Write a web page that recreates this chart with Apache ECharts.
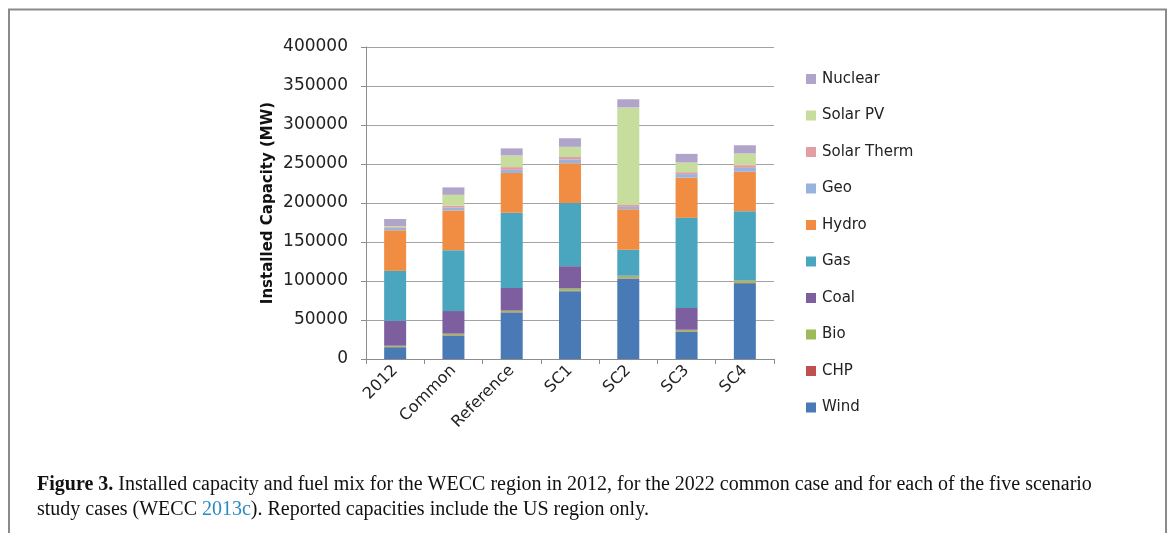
<!DOCTYPE html>
<html>
<head>
<meta charset="utf-8">
<script src="https://cdn.jsdelivr.net/npm/echarts@6/dist/echarts.min.js"></script>
<style>
  html, body { margin: 0; padding: 0; background: #fff; }
  #chart { width: 1169px; height: 533px; }
</style>
</head>
<body>
<div id="chart"></div>
<script>
// Installed capacity (MW) by fuel for each case
const cases = ['2012', 'Common', 'Reference', 'SC1', 'SC2', 'SC3', 'SC4'];

const wind       = [15000, 30000, 59500, 87000, 103000, 35000, 97000];
const chp        = [500, 500, 500, 500, 500, 500, 500];
const bio        = [1500, 2000, 2000, 3000, 2500, 2000, 3000];
const coal       = [32000, 29000, 29000, 28500, 1000, 28000, 500];
const gas        = [64000, 78000, 96500, 81000, 33000, 115500, 88500];
const hydro      = [52000, 51000, 51000, 51000, 52000, 51500, 50500];
const geo        = [3000, 3500, 4000, 5000, 3000, 4500, 5000];
const solarTherm = [1000, 2500, 3500, 3000, 2500, 2500, 3500];
const solarPV    = [1500, 14000, 15000, 13000, 125000, 12500, 15000];
const nuclear    = [9000, 9500, 9000, 11000, 10500, 11000, 10500];

const yTicks = { min: 0, max: 400000, interval: 50000 };

const fuels = [
  { name: 'Wind',        data: wind,       color: '#4a7ab6' },
  { name: 'CHP',         data: chp,        color: '#c0504d' },
  { name: 'Bio',         data: bio,        color: '#9bbb59' },
  { name: 'Coal',        data: coal,       color: '#7d5f9f' },
  { name: 'Gas',         data: gas,        color: '#4aa6bf' },
  { name: 'Hydro',       data: hydro,      color: '#f08d43' },
  { name: 'Geo',         data: geo,        color: '#98b3de' },
  { name: 'Solar Therm', data: solarTherm, color: '#e39ea4' },
  { name: 'Solar PV',    data: solarPV,    color: '#c6dd9e' },
  { name: 'Nuclear',     data: nuclear,    color: '#b1a4cb' }
];

const chart = echarts.init(document.getElementById('chart'), null, { renderer: 'canvas' });

const sansFont = 'DejaVu Sans';
const serifFont = 'Liberation Serif';

chart.setOption({
  backgroundColor: '#ffffff',
  animation: false,
  grid: { left: 366, right: 395, top: 47, bottom: 174, containLabel: false },
  legend: {
    orient: 'vertical',
    left: 801,
    top: 66,
    itemWidth: 10,
    itemHeight: 10,
    itemGap: 20.5,
    icon: 'rect',
    data: fuels.map(f => f.name).reverse(),
    textStyle: { fontFamily: sansFont, fontSize: 15, color: '#222', lineHeight: 16, padding: [0, 0, 0, 1] }
  },
  xAxis: {
    type: 'category',
    data: cases,
    boundaryGap: true,
    axisLine: { lineStyle: { color: '#8c8c8c', width: 1 } },
    axisTick: { show: true, length: 5, lineStyle: { color: '#8c8c8c' } },
    axisLabel: { rotate: 45, margin: 9, fontFamily: sansFont, fontSize: 16, color: '#222' }
  },
  yAxis: {
    type: 'value',
    min: yTicks.min,
    max: yTicks.max,
    interval: yTicks.interval,
    name: 'Installed Capacity (MW)',
    nameLocation: 'middle',
    nameRotate: 90,
    nameGap: 90,
    nameTextStyle: { fontFamily: sansFont, fontSize: 15, fontWeight: 'bold', color: '#111' },
    axisLine: { show: true, lineStyle: { color: '#8c8c8c', width: 1 } },
    axisTick: { show: true, length: 5, lineStyle: { color: '#8c8c8c' } },
    axisLabel: {
      margin: 18,
      fontFamily: sansFont,
      fontSize: 17,
      color: '#222',
      formatter: v => String(v)
    },
    splitLine: { show: true, lineStyle: { color: '#a3a3a3', width: 1 } }
  },
  series: fuels.map(f => ({
    name: f.name,
    type: 'bar',
    stack: 'capacity',
    barWidth: 22,
    data: f.data,
    itemStyle: { color: f.color },
    emphasis: { disabled: true }
  })),
  graphic: [
    {
      type: 'rect',
      silent: true,
      shape: { x: 9, y: 9.5, width: 1157, height: 600 },
      style: { fill: 'none', stroke: '#8a8a8a', lineWidth: 2 }
    },
    {
      type: 'text',
      left: 37,
      top: 472,
      silent: true,
      style: {
        text: '{b|Figure 3.} Installed capacity and fuel mix for the WECC region in 2012, for the 2022 common case and for each of the five scenario\nstudy cases (WECC {l|2013c}). Reported capacities include the US region only.',
        font: '20px ' + serifFont,
        fill: '#111',
        lineHeight: 25,
        rich: {
          b: { font: 'bold 20px ' + serifFont, fill: '#111', lineHeight: 25 },
          l: { font: '20px ' + serifFont, fill: '#2a8bc0', lineHeight: 25 }
        }
      }
    }
  ]
});
</script>
</body>
</html>
